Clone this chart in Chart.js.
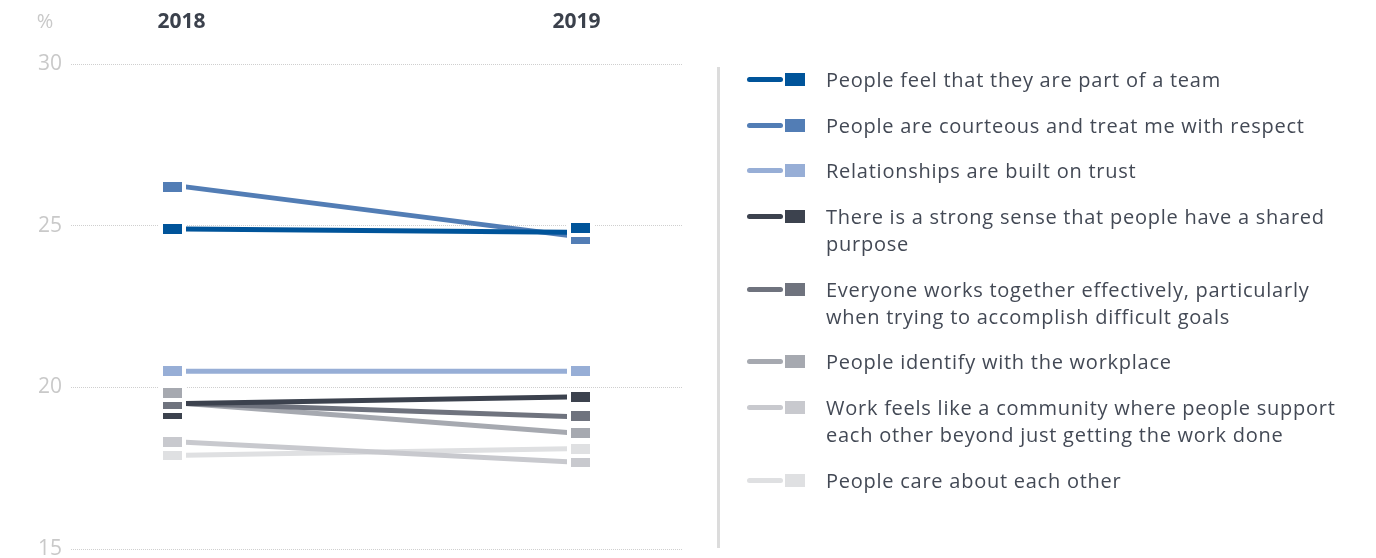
<!DOCTYPE html>
<html>
<head>
<meta charset="utf-8">
<script src="https://cdn.jsdelivr.net/npm/chart.js@4/dist/chart.umd.min.js"></script>
<style>
  html, body { margin: 0; padding: 0; background: #fff; }
  #wrap { position: relative; width: 1376px; height: 558px; overflow: hidden; }
  #c { position: absolute; left: 0; top: 0; }
  #legend {
    position: absolute; left: 717px; top: 67px; height: 481px;
    border-left: 3px solid #dcdcdc; width: 650px;
    font-family: "Open Sans", Lato, sans-serif; font-size: 20px; letter-spacing: 0.75px; color: #434955;
  }
  .item { position: relative; padding-left: 106px; line-height: 27px; margin-bottom: 18.7px; white-space: nowrap; }
  .item:first-child { margin-top: -1px; }
  .key-line { position: absolute; left: 27px; top: 11px; width: 36px; height: 5px; border-radius: 3px; }
  .key-box { position: absolute; left: 65px; top: 7px; width: 20px; height: 13px; }
</style>
</head>
<body>
<div id="wrap">
  <canvas id="c" width="1376" height="558"></canvas>
  <div id="legend"></div>
</div>
<script>
// ---- data ----
const years = [2018, 2019];
const yTicks = [15, 20, 25, 30];
const seriesLabels = [
  ["People feel that they are part of a team"],
  ["People are courteous and treat me with respect"],
  ["Relationships are built on trust"],
  ["There is a strong sense that people have a shared", "purpose"],
  ["Everyone works together effectively, particularly", "when trying to accomplish difficult goals"],
  ["People identify with the workplace"],
  ["Work feels like a community where people support", "each other beyond just getting the work done"],
  ["People care about each other"]
];
const team      = [24.9, 24.8];
const courteous = [26.2, 24.7];
const trust     = [20.5, 20.5];
const shared    = [19.5, 19.7];
const everyone  = [19.5, 19.1];
const identify  = [19.5, 18.6];
const community = [18.3, 17.7];
const care      = [17.9, 18.1];
const seriesValues = [team, courteous, trust, shared, everyone, identify, community, care];
const colors = ["#00549a", "#527db5", "#97aed6", "#3c424e", "#6f737e", "#a6a9b0", "#c8c9ce", "#dfe0e2"];

// ---- geometry/style ----
const MARK_W = 19, MARK_H = 10, MARK_OFF = 13.5, MIN_GAP = 10.7, HALO = 4;

function resolve(items) {
  items.sort((a, b) => a.y - b.y || b.idx - a.idx);
  let clusters = items.map(it => ({ members: [it], center: it.y }));
  let changed = true;
  while (changed) {
    changed = false;
    for (let i = 0; i < clusters.length - 1; i++) {
      const a = clusters[i], b = clusters[i + 1];
      const aBottom = a.center + (a.members.length - 1) * MIN_GAP / 2;
      const bTop = b.center - (b.members.length - 1) * MIN_GAP / 2;
      if (bTop - aBottom < MIN_GAP) {
        const members = a.members.concat(b.members);
        const center = members.reduce((s, m) => s + m.y, 0) / members.length;
        clusters.splice(i, 2, { members, center });
        changed = true;
        break;
      }
    }
  }
  clusters.forEach(c => {
    const n = c.members.length;
    c.members.forEach((m, k) => { m.py = c.center + (k - (n - 1) / 2) * MIN_GAP; });
  });
  return items;
}

const decor = {
  id: 'decor',
  afterDatasetsDraw(chart) {
    const { ctx, scales } = chart;
    const ys = scales.y;
    [0, 1].forEach(side => {
      const x = scales.x.getPixelForValue(years[side]) + (side === 0 ? -MARK_OFF : MARK_OFF);
      const items = seriesValues.map((v, idx) => ({ y: ys.getPixelForValue(v[side]), idx }));
      resolve(items);
      // draw from bottom to top, each with a white halo
      items.slice().sort((a, b) => b.py - a.py).forEach(it => {
        const rx = Math.round(x - MARK_W / 2), ry = Math.round(it.py - MARK_H / 2);
        ctx.fillStyle = '#fff';
        ctx.fillRect(rx - HALO, ry - HALO, MARK_W + 2 * HALO, MARK_H + 2 * HALO);
        ctx.fillStyle = colors[it.idx];
        ctx.fillRect(rx, ry, MARK_W, MARK_H);
      });
    });
    // header texts
    ctx.save();
    ctx.textBaseline = 'middle';
    ctx.textAlign = 'center';
    ctx.font = 'bold 21px "Open Sans", Lato, sans-serif';
    ctx.fillStyle = '#3b414c';
    const xa = scales.x.getPixelForValue(years[0]) - 4;
    const xb = scales.x.getPixelForValue(years[1]) + 9;
    ctx.fillText(String(years[0]), xa, 22);
    ctx.fillText(String(years[1]), xb, 22);
    ctx.font = '20px "Open Sans", Lato, sans-serif';
    ctx.fillStyle = '#c9c9c9';
    ctx.fillText('%', 45, 22);
    ctx.restore();
  }
};

const datasets = seriesValues.map((vals, i) => ({
  label: seriesLabels[i].join(' '),
  data: years.map((yr, k) => ({ x: yr, y: vals[k] })),
  borderColor: colors[i],
  backgroundColor: colors[i],
  borderWidth: 5,
  pointRadius: 0,
  pointHoverRadius: 0,
  tension: 0,
  fill: false,
  borderCapStyle: 'butt'
}));

new Chart(document.getElementById('c'), {
  type: 'line',
  data: { datasets },
  plugins: [decor],
  options: {
    responsive: false,
    animation: false,
    devicePixelRatio: 1,
    layout: { padding: { left: 0, right: 694, top: 64, bottom: 9 } },
    plugins: { legend: { display: false }, tooltip: { enabled: false } },
    scales: {
      x: { type: 'linear', display: false, min: 2017.7, max: 2019.3 },
      y: {
        min: 15, max: 30,
        afterBuildTicks(scale) { scale.ticks = yTicks.map(v => ({ value: v })); },
        afterFit(scale) { scale.width = 71; scale.paddingTop = 0; scale.paddingBottom = 0; },
        border: { display: false, dash: [1, 1] },
        grid: { color: '#cfcfcf', lineWidth: 1, drawTicks: false },
        ticks: {
          padding: 9,
          color: '#c9c9c9',
          font: { family: '"Open Sans", Lato, sans-serif', size: 21, lineHeight: 1 }
        }
      }
    }
  }
});

// ---- HTML legend ----
const legend = document.getElementById('legend');
seriesLabels.forEach((lines, i) => {
  const div = document.createElement('div');
  div.className = 'item';
  div.innerHTML = '<span class="key-line" style="background:' + colors[i] + '"></span>' +
    '<span class="key-box" style="background:' + colors[i] + '"></span>' +
    lines.join('<br>');
  legend.appendChild(div);
});
</script>
</body>
</html>
